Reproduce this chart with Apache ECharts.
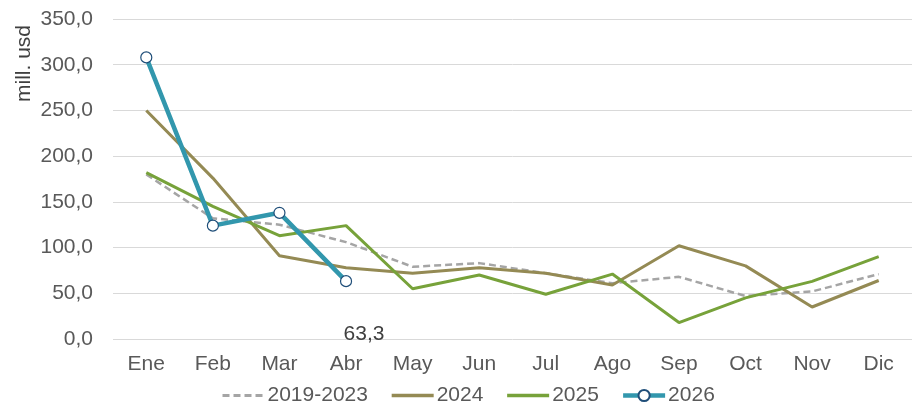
<!DOCTYPE html>
<html>
<head>
<meta charset="utf-8">
<script src="https://cdn.jsdelivr.net/npm/echarts@6/dist/echarts.min.js"></script>
<style>
  html, body { margin: 0; padding: 0; background: #fff; }
  #chart { width: 912px; height: 403px; }
</style>
</head>
<body>
<div id="chart"></div>
<script>
const months = ['Ene', 'Feb', 'Mar', 'Abr', 'May', 'Jun', 'Jul', 'Ago', 'Sep', 'Oct', 'Nov', 'Dic']
const avg2019_2023 = [180, 132, 125, 106, 79, 83, 72, 61, 68, 47, 52, 71]
const y2024 = [250, 176, 91, 78, 72, 78, 72, 59, 102, 80, 35, 64]
const y2025 = [182, 145, 113, 124, 55, 70, 49, 71, 18, 45, 63, 90]
const y2026 = [308, 124, 138, 63.3]

const fmt = v => v.toFixed(1).replace('.', ',')
const font = 'Liberation Sans, Arial, sans-serif'

const chart = echarts.init(document.getElementById('chart'))
chart.setOption({
  animation: false,
  textStyle: { fontFamily: font },
  grid: { left: 113, top: 19, width: 805, height: 320 },
  graphic: [{
    type: 'text',
    left: 14,
    top: 25,
    rotation: Math.PI / 2,
    style: { text: 'mill. usd', fontSize: 21, fill: '#404040', fontFamily: font }
  }],
  legend: {
    top: 380,
    left: 216,
    itemWidth: 42,
    itemHeight: 14,
    itemGap: 22,
    textStyle: { fontSize: 21, color: '#595959', fontFamily: font, padding: [0, 0, 0, -2] },
    data: [
      { name: '2019-2023', itemStyle: { opacity: 0 }, lineStyle: { width: 3 } },
      { name: '2024', itemStyle: { opacity: 0 }, lineStyle: { width: 3.5 } },
      { name: '2025', itemStyle: { opacity: 0 }, lineStyle: { width: 3.5 } },
      { name: '2026', lineStyle: { width: 4.5 } }
    ]
  },
  xAxis: {
    type: 'category',
    data: months,
    axisLine: { show: false },
    axisTick: { show: false },
    axisLabel: { fontSize: 21, color: '#595959', margin: 15 }
  },
  yAxis: {
    type: 'value',
    min: 0,
    max: 350,
    interval: 50,
    axisLabel: { fontSize: 21, color: '#595959', margin: 20, formatter: fmt },
    splitLine: { lineStyle: { color: '#d9d9d9', width: 1 } }
  },
  series: [
    {
      name: '2019-2023',
      type: 'line',
      data: avg2019_2023,
      symbol: 'none',
      lineStyle: { color: '#a5a5a5', width: 2.5, type: [7, 4] },
      itemStyle: { color: '#a5a5a5' }
    },
    {
      name: '2024',
      type: 'line',
      data: y2024,
      symbol: 'none',
      lineStyle: { color: '#948a54', width: 3 },
      itemStyle: { color: '#948a54' }
    },
    {
      name: '2025',
      type: 'line',
      data: y2025,
      symbol: 'none',
      lineStyle: { color: '#77a23a', width: 3 },
      itemStyle: { color: '#77a23a' }
    },
    {
      name: '2026',
      type: 'line',
      data: y2026,
      symbol: 'circle',
      symbolSize: 11,
      lineStyle: { color: '#3297ad', width: 4.5 },
      itemStyle: { color: '#ffffff', borderColor: '#1f4e79', borderWidth: 1.2 },
      label: {
        show: true,
        position: 'bottom',
        distance: 36,
        offset: [18, 0],
        fontSize: 21,
        color: '#404040',
        formatter: p => p.dataIndex === y2026.length - 1 ? fmt(p.value) : ''
      },
      z: 5
    }
  ]
})
</script>
</body>
</html>
